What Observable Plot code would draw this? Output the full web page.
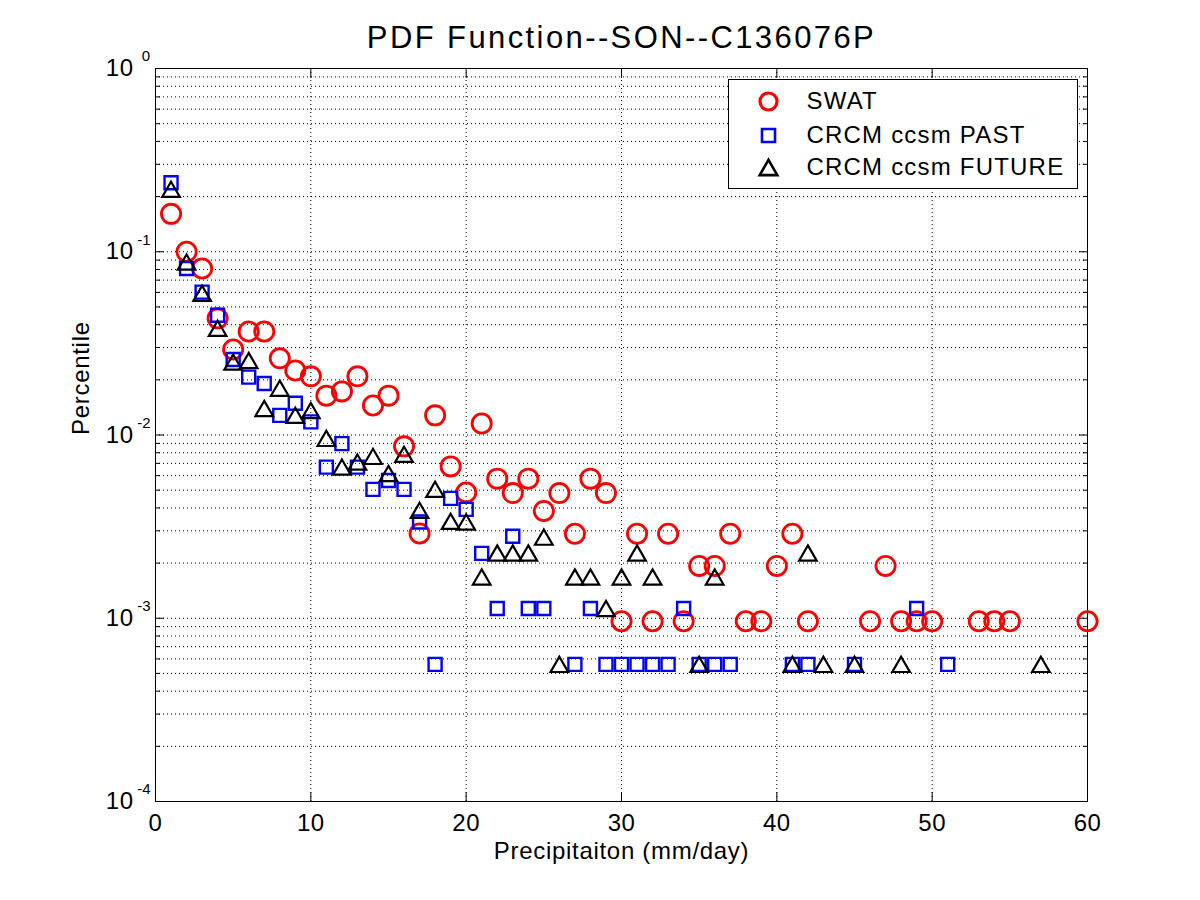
<!DOCTYPE html>
<html>
<head>
<meta charset="utf-8">
<script src="https://cdn.jsdelivr.net/npm/d3@7"></script>
<script src="https://cdn.jsdelivr.net/npm/@observablehq/plot@0.6"></script>
<style>
  html, body { margin: 0; padding: 0; background: #fff; }
  #chart { width: 1200px; height: 900px; }
</style>
</head>
<body>
<div id="chart"></div>
<script>
const titleText = "PDF Function--SON--C136076P";
const xLabel = "Precipitaiton (mm/day)";
const yLabel = "Percentile";

const xTicks = [0, 10, 20, 30, 40, 50, 60];
const xGrid = [10, 20, 30, 40, 50];
const yMajor = [1e-4, 1e-3, 1e-2, 1e-1, 1];
const yMinor = [1e-4, 1e-3, 1e-2, 1e-1].flatMap(d => [2, 3, 4, 5, 6, 7, 8, 9].map(m => m * d));

// SWAT
const swatX = [1,2,3,4,5,6,7,8,9,10,11,12,13,14,15,16,17,18,19,20,21,22,23,24,25,26,27,28,29,30,31,32,33,34,35,36,37,38,39,40,41,42,46,47,48,49,50,53,54,55,60];
const swatY = [0.161,0.100,0.081,0.0433,0.0293,0.0367,0.0367,0.0262,0.0225,0.0209,0.0164,0.0173,0.0209,0.0145,0.0164,0.00867,0.0029,0.0128,0.00674,0.00486,0.01156,0.00578,0.00482,0.00578,0.00385,0.00482,0.00289,0.00578,0.00482,0.000963,0.00289,0.000963,0.00289,0.000963,0.00193,0.00193,0.00289,0.000963,0.000963,0.00193,0.00289,0.000963,0.000963,0.00193,0.000963,0.000963,0.000963,0.000963,0.000963,0.000963,0.000963];

// CRCM ccsm PAST
const pastX = [1,2,3,4,5,6,7,8,9,10,11,12,13,14,15,16,17,18,19,20,21,22,23,24,25,27,28,29,30,31,32,33,34,35,36,37,41,42,45,49,51];
const pastY = [0.238,0.081,0.0602,0.045,0.0258,0.0207,0.0191,0.0128,0.0149,0.0118,0.00668,0.00897,0.00668,0.00505,0.00565,0.00505,0.00335,0.00056,0.00451,0.00393,0.00226,0.00113,0.0028,0.00113,0.00113,0.00056,0.00113,0.00056,0.00056,0.00056,0.00056,0.00056,0.00113,0.00056,0.00056,0.00056,0.00056,0.00056,0.00056,0.00113,0.00056];

// CRCM ccsm FUTURE
const futX = [1,2,3,4,5,6,7,8,9,10,11,12,13,14,15,16,17,18,19,20,21,22,23,24,25,26,27,28,29,30,31,32,35,36,41,42,43,45,48,57];
const futY = [0.219,0.0878,0.0593,0.0382,0.025,0.0255,0.01396,0.018,0.0128,0.0136,0.00958,0.00668,0.00712,0.00764,0.00617,0.00784,0.00388,0.00505,0.00338,0.00335,0.00168,0.00227,0.00227,0.00227,0.00277,0.00056,0.00168,0.00168,0.00113,0.00168,0.00227,0.00168,0.00056,0.00168,0.00056,0.00227,0.00056,0.00056,0.00056,0.00056];

const squareSym = {draw(ctx, size) { const r = Math.sqrt(size / Math.PI); ctx.moveTo(-r, -r); ctx.lineTo(r, -r); ctx.lineTo(r, r); ctx.lineTo(-r, r); ctx.closePath(); }};
const triSym = {draw(ctx, size) { const r = Math.sqrt(size / Math.PI); ctx.moveTo(0, -0.95 * r); ctx.lineTo(1.1 * r, 0.95 * r); ctx.lineTo(-1.1 * r, 0.95 * r); ctx.closePath(); }};

const series = [
  {name: "SWAT", xs: swatX, ys: swatY, color: "#ff0000", symbol: "circle", r: 9.6, sw: 2.8, legendDy: 33},
  {name: "CRCM ccsm PAST", xs: pastX, ys: pastY, color: "#0000ff", symbol: squareSym, r: 6.5, sw: 2.4, legendDy: 67},
  {name: "CRCM ccsm FUTURE", xs: futX, ys: futY, color: "#000000", symbol: triSym, r: 8, sw: 2.2, legendDy: 99}
];

const font = "Liberation Sans, Arial, Helvetica, sans-serif";

const marks = [
  Plot.ruleY(yMinor, {stroke: "#000", strokeDasharray: "1,3", strokeWidth: 1}),
  Plot.ruleY(yMajor, {stroke: "#000", strokeDasharray: "1,3", strokeWidth: 1}),
  Plot.ruleX(xGrid, {stroke: "#000", strokeDasharray: "1,3", strokeWidth: 1}),
  // inward ticks
  Plot.axisY(yMajor, {anchor: "left", tickSize: 9, dx: 9, tickFormat: () => "", label: null}),
  Plot.axisY(yMajor, {anchor: "right", tickSize: 9, dx: -9, tickFormat: () => "", label: null}),
  Plot.axisY(yMinor, {anchor: "left", tickSize: 5, dx: 5, tickFormat: () => "", label: null}),
  Plot.axisY(yMinor, {anchor: "right", tickSize: 5, dx: -5, tickFormat: () => "", label: null}),
  Plot.axisX(xTicks, {anchor: "bottom", tickSize: 9, dy: -9, tickFormat: () => "", label: null}),
  Plot.axisX(xTicks, {anchor: "top", tickSize: 9, dy: 9, tickFormat: () => "", label: null}),
  // tick labels
  Plot.axisX(xTicks, {anchor: "bottom", tickSize: 0, tickPadding: 12, fontSize: 24, label: null, tickFormat: d => String(d)}),
  Plot.axisY(yMajor, {anchor: "left", tickSize: 0, tickPadding: 22, fontSize: 24, label: null, tickFormat: () => "10"}),
  Plot.text(yMajor, {y: d => d, text: d => String(Math.round(Math.log10(d))), frameAnchor: "left", dx: -5, dy: -12, textAnchor: "end", lineAnchor: "middle", fontSize: 15}),
  Plot.frame({stroke: "#000", strokeWidth: 1}),
  // data
  ...series.map(s => Plot.dot(s.xs.map((x, i) => ({x, y: s.ys[i]})), {x: "x", y: "y", symbol: () => s.symbol, r: s.r, stroke: s.color, strokeWidth: s.sw, fill: "none"})),
  // legend
  Plot.frame({insetLeft: 573, insetRight: 10, insetTop: 11, insetBottom: 613, fill: "#fff", stroke: "#000", strokeWidth: 1}),
  ...series.map(s => Plot.dot([s.name], {frameAnchor: "top-right", dx: -319, dy: s.legendDy, symbol: () => s.symbol, r: s.symbol === "circle" ? 8.5 : s.r, stroke: s.color, strokeWidth: s.symbol === "circle" ? 3.2 : 2.6, fill: "none"})),
  ...series.map(s => Plot.text([s.name], {text: d => d, frameAnchor: "top-right", dx: -281, dy: s.legendDy, textAnchor: "start", lineAnchor: "middle", fontSize: 24})),
  // titles
  Plot.text([titleText], {text: d => d, frameAnchor: "top", dy: -30, lineAnchor: "middle", fontSize: 31}),
  Plot.text([xLabel], {text: d => d, frameAnchor: "bottom", dy: 50, lineAnchor: "middle", fontSize: 24}),
  Plot.text([yLabel], {text: d => d, frameAnchor: "left", dx: -74, rotate: -90, lineAnchor: "middle", fontSize: 24})
];

const chart = Plot.plot({
  width: 1200,
  height: 900,
  marginLeft: 155,
  marginRight: 113,
  marginTop: 68,
  marginBottom: 99,
  style: {fontFamily: font, background: "#fff", color: "#000", overflow: "visible"},
  x: {domain: [0, 60]},
  y: {type: "log", domain: [1e-4, 1]},
  marks
});
document.getElementById("chart").appendChild(chart);

// MATLAB-like wide letter spacing
const spacing = new Map([[titleText, "2.4px"], [xLabel, "0.7px"], [yLabel, "0.7px"]]);
series.forEach(s => spacing.set(s.name, "1.2px"));
d3.select(chart).selectAll("text").each(function () {
  const t = this.textContent;
  if (spacing.has(t)) this.style.letterSpacing = spacing.get(t);
  else if (/^\d+$/.test(t)) this.style.letterSpacing = "0.5px";
});
</script>
</body>
</html>
